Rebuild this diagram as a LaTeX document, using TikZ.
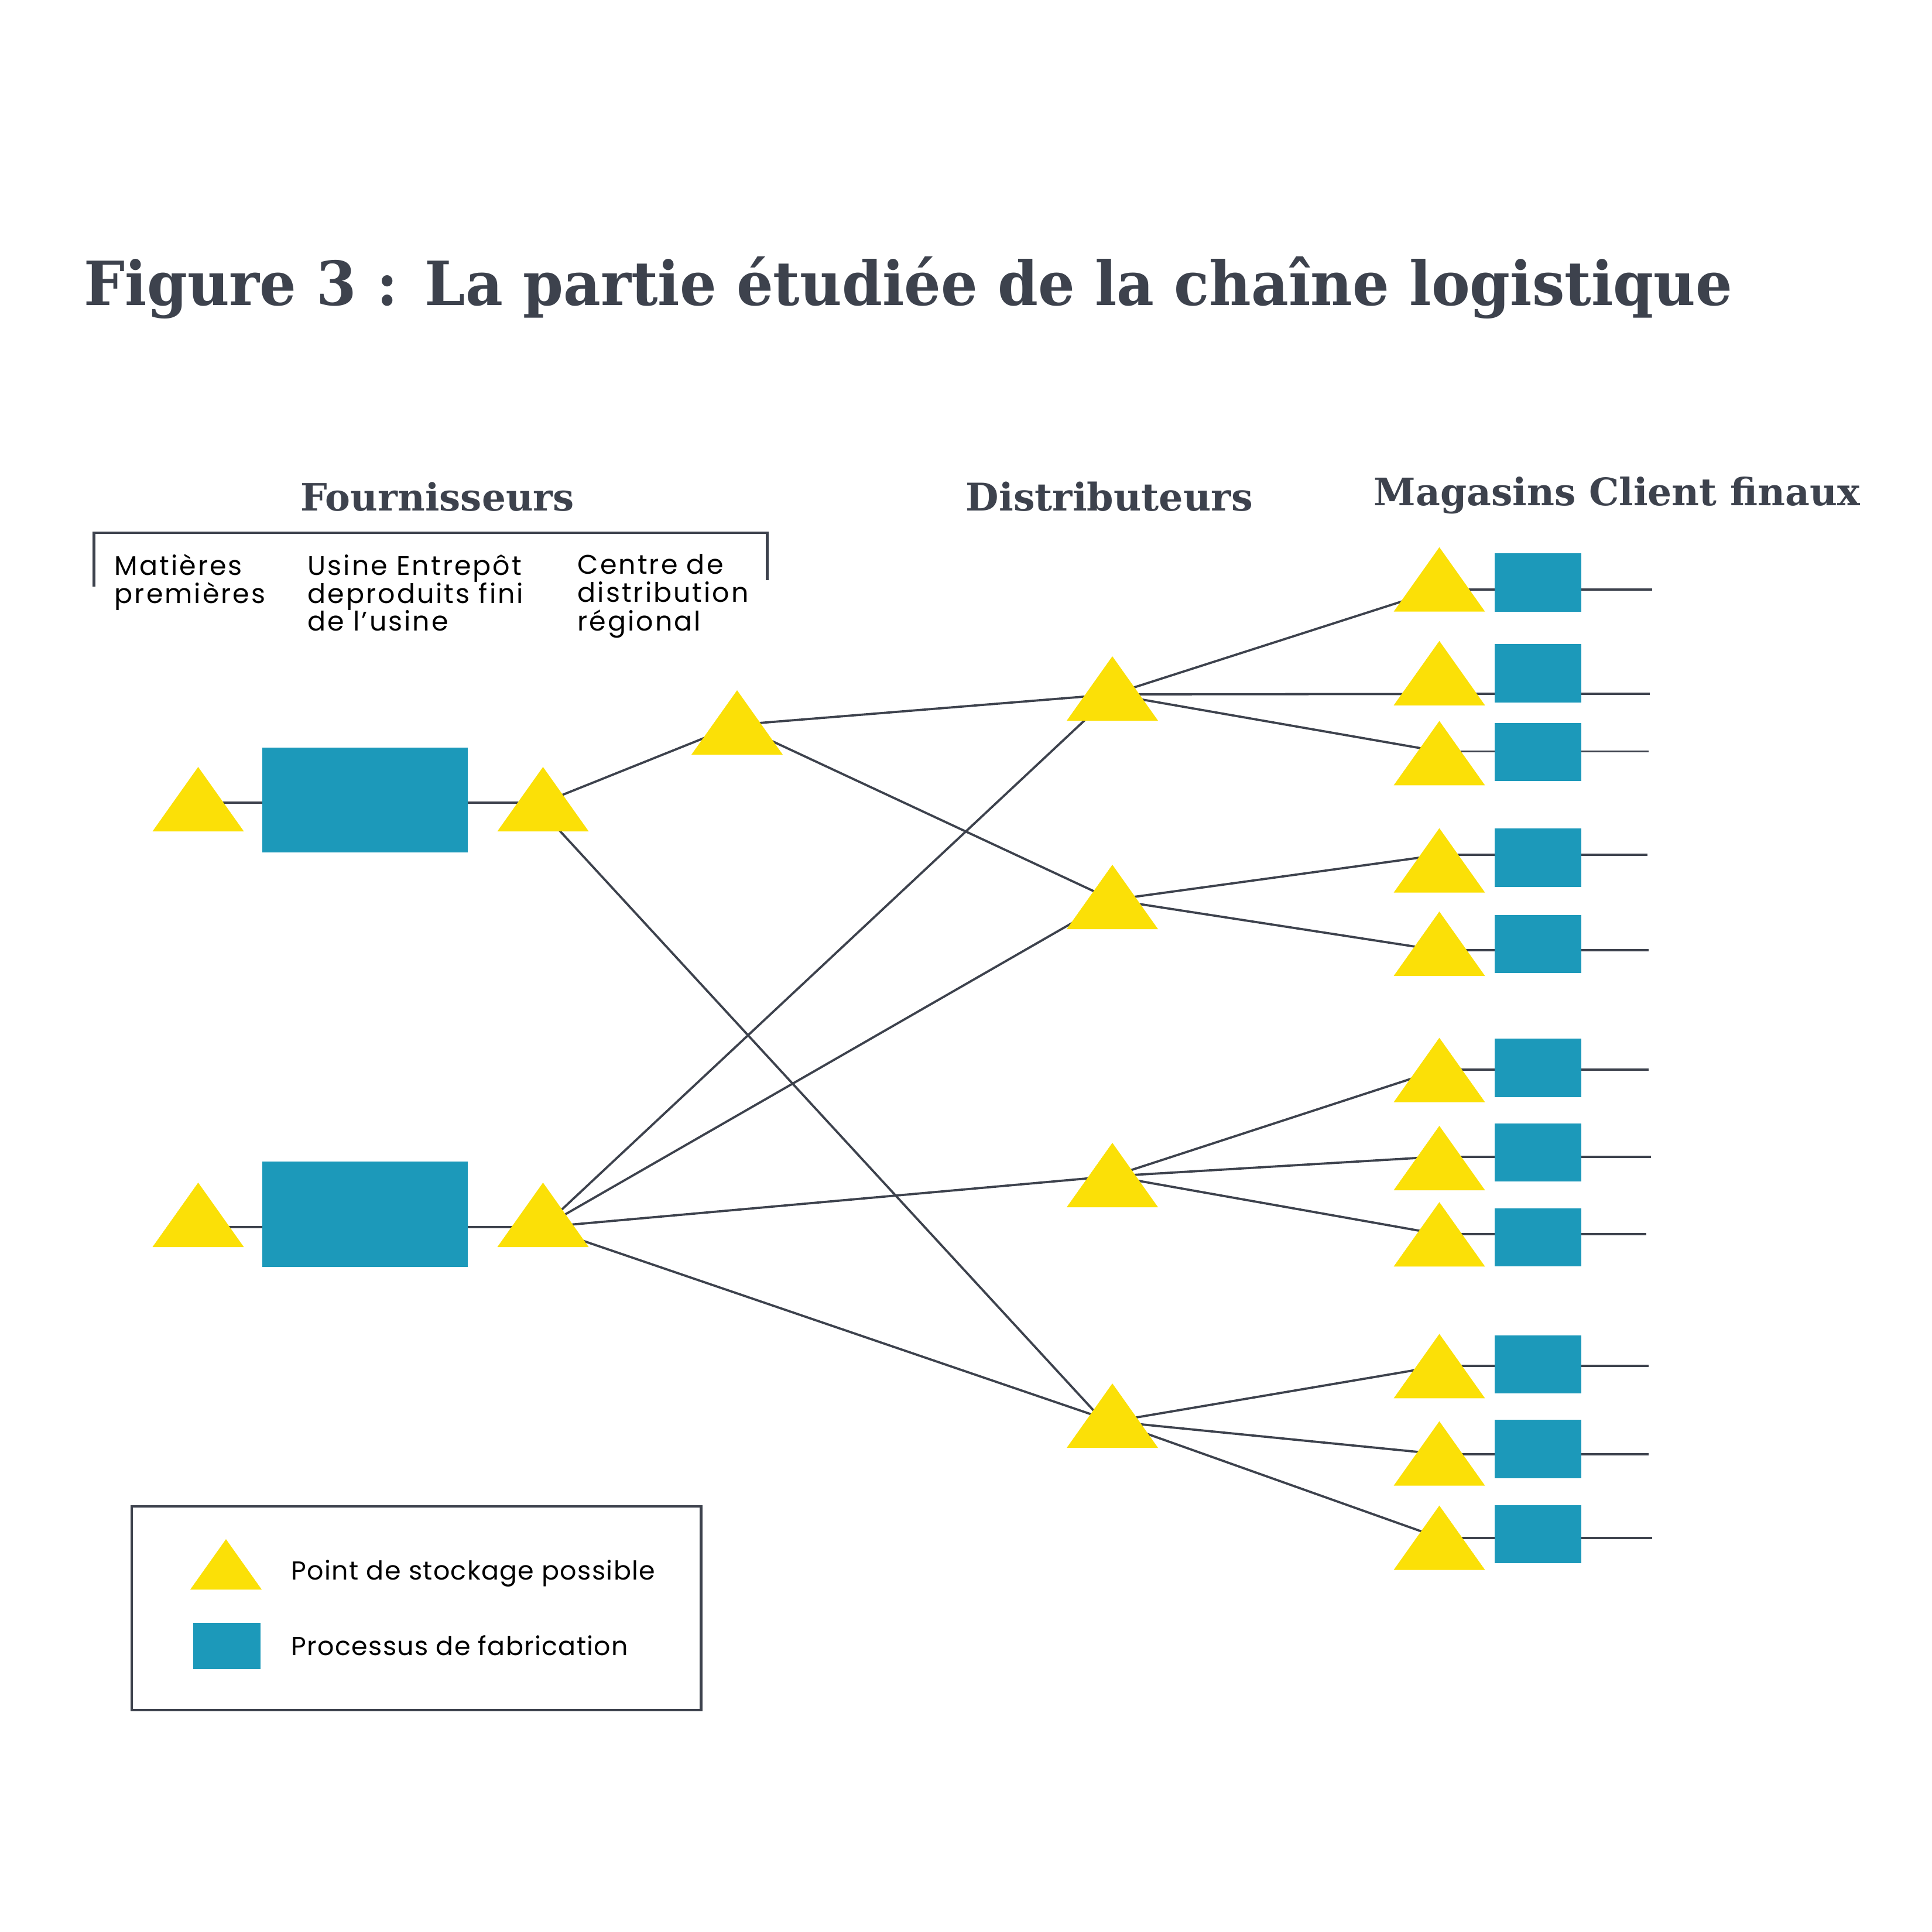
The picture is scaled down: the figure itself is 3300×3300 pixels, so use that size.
\documentclass[tikz,border=0pt]{standalone}
\usepackage{fontspec}
\newfontfamily\slab{DejaVu Serif}
\newfontfamily\slabT{DejaVu Serif}[FakeStretch=0.948]
\newfontfamily\geoS{Poppins}[LetterSpace=6.5]
\newfontfamily\geoL{Poppins}[LetterSpace=3]
\definecolor{dk}{HTML}{3D424D}
\definecolor{yel}{HTML}{FBE007}
\definecolor{blu}{HTML}{1C99BA}
\newcommand\ytri[3]{\fill[yel] (#1,#2) ++(-#3,0) -- ++(2*#3,0) -- ++(-#3,-110) -- cycle;}
\begin{document}
\begin{tikzpicture}[x=0.25pt,y=-0.25pt,
  ln/.style={draw=dk,line width=0.95pt},
  frame/.style={draw=dk,line width=1.1pt},
  box/.style={fill=blu,inner sep=0pt,outer sep=0pt,draw=none},
  ttl/.style={anchor=base west,inner sep=0pt,text=dk,font=\slab\bfseries\fontsize{15.8pt}{18pt}\selectfont},
  sub/.style={anchor=base west,inner sep=0pt,text=black,font=\geoS\fontsize{11.5pt}{12pt}\selectfont},
  leg/.style={anchor=base west,inner sep=0pt,text=black,font=\geoL\fontsize{11.1pt}{12pt}\selectfont}]
\useasboundingbox (0,0) rectangle (3300,3300);
% title and headers
\node[ttl,font=\slabT\bfseries\fontsize{26pt}{30pt}\selectfont] (title) at (143,521) {Figure 3 : La partie étudiée de la chaîne logistique};
\node[ttl] (hfour) at (513,872) {\resizebox{116.75pt}{!}{Fournisseurs}};
\node[ttl] (hdist) at (1649,872) {\resizebox{122.5pt}{!}{Distributeurs}};
\node[ttl] (hmag) at (2346,863) {\resizebox{207.5pt}{!}{Magasins Client finaux}};
% bracket
\coordinate (bl) at (160.5,1001.7);
\coordinate (br) at (1310.6,990.7);
\draw[frame] (bl) |- (br |- 0,910) -- (br);
% sub labels
\node[sub] (m1) at (195,982) {Matières};
\node[sub] (m2) at (195,1030) {premières};
\node[sub] (u1) at (525,982) {Usine Entrepôt};
\node[sub] (u2) at (525,1030) {deproduits fini};
\node[sub] (u3) at (525,1077.7) {de l’usine};
\node[sub] (c1) at (986,980) {Centre de};
\node[sub] (c2) at (986,1028) {distribution};
\node[sub] (c3) at (986,1077) {régional};
% hub coordinates
\coordinate (a1) at (338.5,1371);
\coordinate (a2) at (338.5,2096);
\coordinate (b1) at (927.5,1371);
\coordinate (b1l) at (927.5,1388);
\coordinate (b2) at (927.5,2096);
\coordinate (rg) at (1259,1238);
\coordinate (d1) at (1900,1186);
\coordinate (d2) at (1900,1537);
\coordinate (d3) at (1900,2009);
\coordinate (d4) at (1900,2428);
\coordinate (d4l) at (1900,2444);
\foreach \i/\y/\e in {1/1006.8/2822,2/1185.3/2817.5,3/1283.5/2815.7,4/1460.3/2814,5/1623.3/2815.7,6/1826.9/2815.7,7/1975.6/2819.8,8/2108.2/2811.7,9/2333.2/2815.7,10/2483.6/2815.7,11/2626.6/2822}{
  \coordinate (s\i) at (2458.5,\y);
  \coordinate (e\i) at (\e,\y);
}
% connectors
\draw[ln] (a1) -- (b1);
\draw[ln] (a2) -- (b2);
\draw[ln] (b1) -- (rg);
\draw[ln] (rg) -- (d1);
\draw[ln] (rg) -- (d2);
\draw[ln] (b1l) -- (d4l);
\foreach \d in {d1,d2,d3,d4} \draw[ln] (b2) -- (\d);
\draw[ln] (d1) -- (s1);
\draw[ln] (d1) -- (s2);
\draw[ln] (d1) -- (s3);
\draw[ln] (d2) -- (s4);
\draw[ln] (d2) -- (s5);
\draw[ln] (d3) -- (s6);
\draw[ln] (d3) -- (s7);
\draw[ln] (d3) -- (s8);
\draw[ln] (d4) -- (s9);
\draw[ln] (d4) -- (s10);
\draw[ln] (d4) -- (s11);
\foreach \i in {1,...,11} \draw[ln] (s\i) -- (e\i);
% rectangles
\node[box,minimum width=87.75pt,minimum height=44.9pt] (p1) at (623.5,1366.5) {};
\node[box,minimum width=87.75pt,minimum height=44.9pt] (p2) at (623.5,2074) {};
\foreach \i/\y in {1/994.75,2/1150,3/1284.35,4/1464.85,5/1612.4,6/1824.05,7/1968.65,8/2113.35,9/2330.35,10/2475.05,11/2620.45}
  \node[box,minimum width=36.9pt,minimum height=24.9pt] (r\i) at (2627.2,\y) {};
% triangles
\ytri{338.5}{1420}{78}
\ytri{338.5}{2130}{78}
\ytri{927.5}{1420}{78}
\ytri{927.5}{2130}{78}
\ytri{1259}{1289}{78}
\ytri{1900}{1231}{78}
\ytri{1900}{1587}{78}
\ytri{1900}{2062}{78}
\ytri{1900}{2473}{78}
\foreach \b in {1044.7,1204.8,1341.4,1524.6,1667,1882.6,2033,2163.3,2388.4,2537.6,2681.6} {\ytri{2458.5}{\b}{78}}
% legend
\draw[frame] (225,2573) rectangle (1197.5,2921);
\fill[yel] (325,2715) -- (447,2715) -- (386,2629) -- cycle;
\node[box,minimum width=28.75pt,minimum height=19.6pt] (lsq) at (387.5,2811.5) {};
\node[leg] (l1) at (497,2698.3) {Point de stockage possible};
\node[leg] (l2) at (497,2827.3) {Processus de fabrication};
\end{tikzpicture}
\end{document}
